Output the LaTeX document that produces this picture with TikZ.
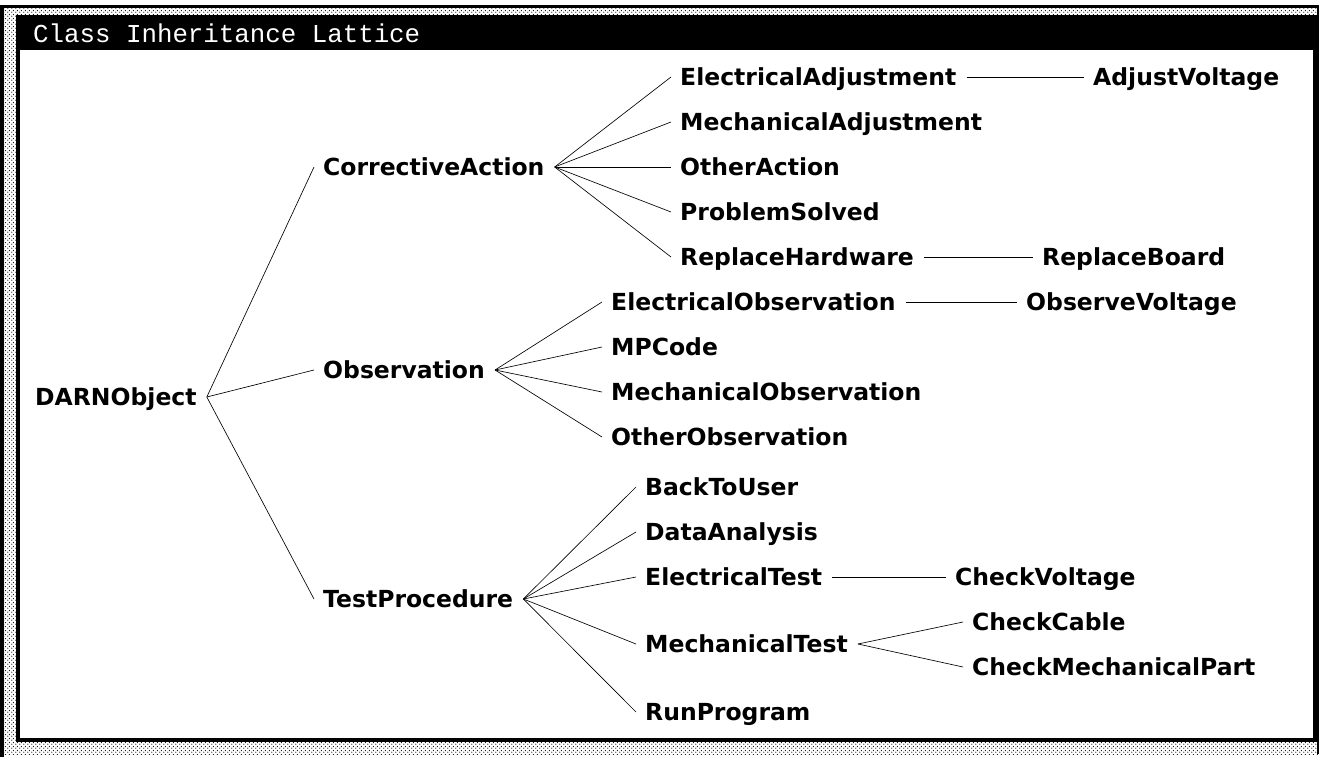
\documentclass[tikz,border=0pt]{standalone}
\usepackage{fontspec}
\newfontfamily\nodefont{DejaVu Sans}
\newfontfamily\titlefont{Liberation Mono}
\usetikzlibrary{patterns.meta}
\tikzdeclarepattern{
  name=stip,
  type=uncolored,
  bottom left={(0pt,0pt)},
  top right={(4pt,4pt)},
  tile size={(4pt,4pt)},
  code={\tikzset{x=1pt,y=1pt}\fill (1,1) circle (0.75); \fill (3,3) circle (0.75);}
}
\newcommand\lnk[2]{\draw[edge] ([xshift=10pt,yshift=8.5pt]#1.base east) -- ([xshift=-9pt,yshift=8.5pt]#2.base west);}
\begin{document}
\begin{tikzpicture}[x=1pt,y=-1pt,
  lab/.style={anchor=base west, inner sep=0pt, font=\nodefont\bfseries\fontsize{23.5}{26}\selectfont},
  edge/.style={line width=0.65pt, black}]
\useasboundingbox (0,0) rectangle (1325,757);
% window frame
\fill[white] (0,0) rectangle (1325,757);
\fill[pattern=stip, pattern color=black] (0,6) rectangle (1318,754);
\fill[white] (20,50) rectangle (1313,738);
\fill[black] (16,15) rectangle (1317,50);
\fill[black] (0,5) rectangle (1318,8);
\fill[black] (0,5) rectangle (4,757);
\fill[black] (16,15) rectangle (20,742);
\fill[black] (16,738) rectangle (1317,742);
\fill[black] (1313,15) rectangle (1317,742);
\fill[black] (1317,5) rectangle (1319,754);
\node[anchor=west, inner sep=0pt, text=white, font=\titlefont\fontsize{25.8}{28}\selectfont] (title) at (33,33) {Class Inheritance Lattice};
% nodes
\node[lab] (darn) at (35,405.5) {DARNObject};
\node[lab] (ca) at (323,175.5) {CorrectiveAction};
\node[lab] (ob) at (323,378.5) {Observation};
\node[lab] (tp) at (323,607.5) {TestProcedure};
\node[lab] (ea) at (680,85.5) {ElectricalAdjustment};
\node[lab] (ma) at (680,130.5) {MechanicalAdjustment};
\node[lab] (oa) at (680,175.5) {OtherAction};
\node[lab] (ps) at (680,220.5) {ProblemSolved};
\node[lab] (rh) at (680,265.5) {ReplaceHardware};
\node[lab] (av) at (1093,85.5) {AdjustVoltage};
\node[lab] (rb) at (1042,265.5) {ReplaceBoard};
\node[lab] (eo) at (611,310.5) {ElectricalObservation};
\node[lab] (mp) at (611,355.5) {MPCode};
\node[lab] (mo) at (611,400.5) {MechanicalObservation};
\node[lab] (oo) at (611,445.5) {OtherObservation};
\node[lab] (ov) at (1026,310.5) {ObserveVoltage};
\node[lab] (bu) at (645,495.5) {BackToUser};
\node[lab] (da) at (645,540.5) {DataAnalysis};
\node[lab] (et) at (645,585.5) {ElectricalTest};
\node[lab] (mt) at (645,652.5) {MechanicalTest};
\node[lab] (rp) at (645,720.5) {RunProgram};
\node[lab] (cv) at (955,585.5) {CheckVoltage};
\node[lab] (cc) at (972,630.5) {CheckCable};
\node[lab] (cm) at (972,675.5) {CheckMechanicalPart};
% edges
\lnk{darn}{ca}\lnk{darn}{ob}\lnk{darn}{tp}
\lnk{ca}{ea}\lnk{ca}{ma}\lnk{ca}{oa}\lnk{ca}{ps}\lnk{ca}{rh}
\lnk{ea}{av}\lnk{rh}{rb}
\lnk{ob}{eo}\lnk{ob}{mp}\lnk{ob}{mo}\lnk{ob}{oo}
\lnk{eo}{ov}
\lnk{tp}{bu}\lnk{tp}{da}\lnk{tp}{et}\lnk{tp}{mt}\lnk{tp}{rp}
\lnk{et}{cv}\lnk{mt}{cc}\lnk{mt}{cm}
\end{tikzpicture}
\end{document}
